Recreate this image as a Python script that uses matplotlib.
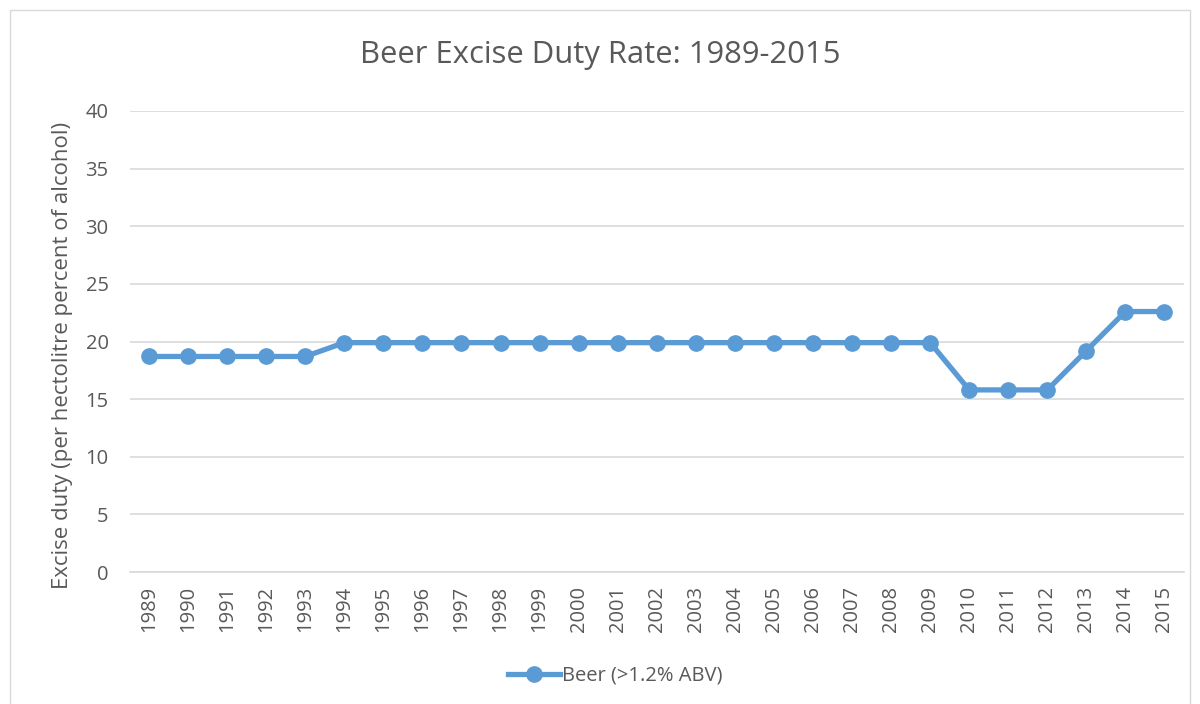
import matplotlib
matplotlib.use("Agg")
import matplotlib.pyplot as plt
from matplotlib.patches import Rectangle

years = [str(y) for y in range(1989, 2016)]
duty = [18.7, 18.7, 18.7, 18.7, 18.7,
        19.9, 19.9, 19.9, 19.9, 19.9, 19.9, 19.9, 19.9, 19.9, 19.9, 19.9, 19.9, 19.9, 19.9, 19.9, 19.9,
        15.8, 15.8, 15.8, 19.2, 22.6, 22.6]
yticks = [0, 5, 10, 15, 20, 25, 30, 35, 40]

plt.rcParams['font.family'] = ['Open Sans', 'DejaVu Sans']
txt = '#595959'
blue = '#5B9BD5'

fig = plt.figure(figsize=(12, 7.04), dpi=100)
ax = fig.add_axes([129.5/1200, 1-572/704, (1184-129.5)/1200, (572-111)/704])

x = list(range(len(years)))
ax.plot(x, duty, color=blue, lw=3.8, marker='o', ms=11, label='Beer (>1.2% ABV)', zorder=3,
        solid_joinstyle='round')
ax.set_xlim(-0.5, len(years)-0.5)
ax.set_ylim(0, 40)
ax.set_yticks(yticks)
ax.set_xticks(x)
ax.set_xticklabels(years, rotation=90, fontsize=14.5, color=txt)
ax.tick_params(axis='y', labelsize=14.5, colors=txt, length=0, pad=15)
ax.tick_params(axis='x', length=0, pad=10)
ax.grid(axis='y', color='#D9D9D9', lw=1.2)
ax.set_axisbelow(True)
for s in ['top', 'right', 'left']:
    ax.spines[s].set_visible(False)
ax.spines['bottom'].set_color('#D9D9D9')
ax.spines['bottom'].set_linewidth(1.2)
ax.set_ylabel('Excise duty (per hectolitre percent of alcohol)', fontsize=16, color=txt,
              va='center')
ax.yaxis.set_label_coords(-0.064, 0.47)

fig.suptitle('Beer Excise Duty Rate: 1989-2015', x=0.5, y=1-55/704, va='center', fontsize=22.3, color=txt)

leg = fig.legend(loc='center', bbox_to_anchor=(615/1200, 1-676/704), frameon=False,
                 fontsize=14.5, handlelength=2.6, labelcolor=txt, handletextpad=0.1)

fig.patches.append(Rectangle((10/1200, -0.02), 1180/1200, 1.0-10/704+0.02, transform=fig.transFigure,
                             fill=False, edgecolor='#D9D9D9', lw=1))

fig.savefig('out.png', dpi=100)
